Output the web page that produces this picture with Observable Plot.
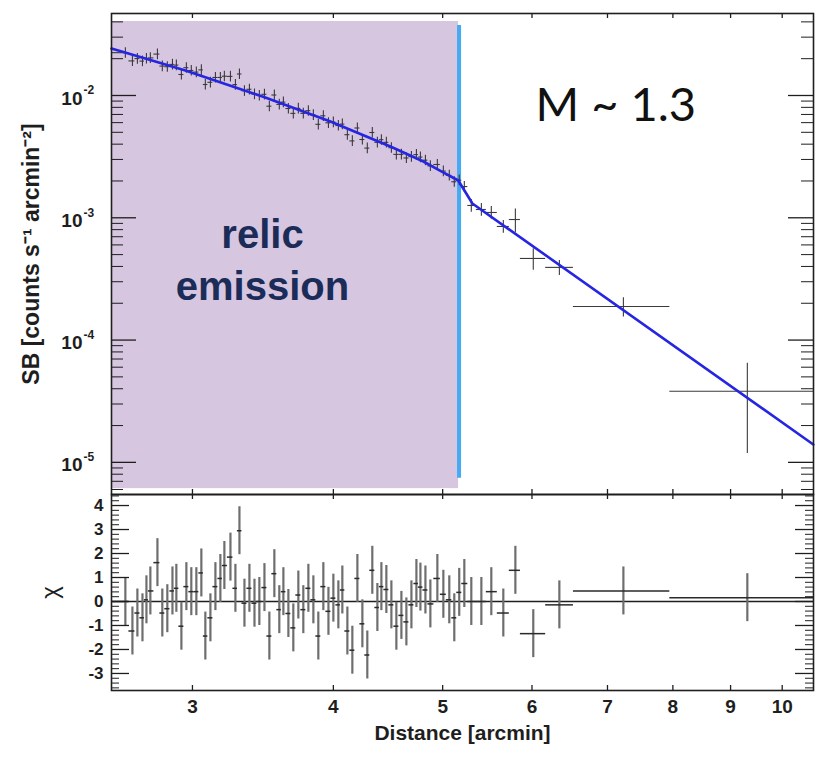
<!DOCTYPE html>
<html><head><meta charset="utf-8">
<script src="https://cdn.jsdelivr.net/npm/d3@7"></script>
<script src="https://cdn.jsdelivr.net/npm/@observablehq/plot@0.6"></script>
<style>
body{margin:0;background:#fff;}
#chart{width:820px;height:758px;position:relative;}
#chart svg{display:block;}
</style></head><body><div id="chart"></div>
<script>
// ---- data ----
const distance = [2.616, 2.654, 2.681, 2.709, 2.731, 2.753, 2.793, 2.821, 2.850, 2.880,
  2.903, 2.933, 2.963, 2.993, 3.024, 3.055, 3.080, 3.112, 3.144, 3.176,
  3.202, 3.242, 3.275, 3.302, 3.336, 3.370, 3.405, 3.439, 3.475, 3.510,
  3.546, 3.582, 3.612, 3.649, 3.686, 3.724, 3.762, 3.801, 3.840, 3.879,
  3.919, 3.960, 4.000, 4.041, 4.074, 4.116, 4.158, 4.201, 4.244, 4.287,
  4.331, 4.376, 4.412, 4.457, 4.503, 4.549, 4.596, 4.643, 4.691, 4.739,
  4.778, 4.827, 4.876, 4.946, 5.007, 5.068, 5.120, 5.172, 5.226, 5.301,
  5.411, 5.522, 5.659, 5.800, 6.016, 6.345, 7.231, 9.313];
const sb = [0.02239, 0.01918, 0.02003, 0.01911, 0.02007, 0.02030, 0.02181, 0.01740, 0.01720, 0.01796,
  0.01773, 0.01485, 0.01688, 0.01601, 0.01554, 0.01620, 0.01230, 0.01282, 0.01404, 0.01404,
  0.01438, 0.01433, 0.01228, 0.01499, 0.01093, 0.01124, 0.01027, 0.01000, 0.01023, 0.008176,
  0.01009, 0.008457, 0.008831, 0.007828, 0.007140, 0.007843, 0.007153, 0.007511, 0.006942, 0.005813,
  0.006823, 0.005980, 0.006059, 0.005683, 0.005835, 0.004780, 0.004253, 0.005423, 0.004366, 0.003714,
  0.004982, 0.004142, 0.004350, 0.004142, 0.003742, 0.003299, 0.003299, 0.003083, 0.003160, 0.003286,
  0.003136, 0.002958, 0.002657, 0.002728, 0.002409, 0.002222, 0.001970, 0.002030, 0.001800, 0.001261,
  0.001169, 0.001105, 0.000849, 0.000968, 0.000465, 0.000393, 0.000188, 0.0000382];
const sbRelErr = [0.10, 0.10, 0.10, 0.10, 0.10, 0.10, 0.10, 0.10, 0.10, 0.10,
  0.10, 0.10, 0.10, 0.10, 0.10, 0.10, 0.10, 0.10, 0.10, 0.10,
  0.10, 0.10, 0.10, 0.10, 0.10, 0.10, 0.10, 0.10, 0.10, 0.10,
  0.10, 0.10, 0.10, 0.10, 0.10, 0.10, 0.10, 0.10, 0.10, 0.10,
  0.10, 0.10, 0.10, 0.10, 0.10, 0.10, 0.10, 0.10, 0.10, 0.10,
  0.10, 0.10, 0.10, 0.10, 0.10, 0.10, 0.10, 0.10, 0.10, 0.10,
  0.10, 0.10, 0.10, 0.10, 0.10, 0.10, 0.10, 0.10, 0.10, 0.12,
  0.12, 0.12, 0.12, 0.22, 0.20, 0.14, 0.18, 0.69];
const chi = [0.00, -1.23, -0.48, -0.68, 0.07, 0.44, 1.62, -0.48, -0.30, 0.44,
  0.55, -1.03, 0.62, 0.41, 0.41, 1.19, -1.44, -0.68, 0.62, 0.96,
  1.50, 1.85, 0.55, 2.95, -0.07, 0.55, -0.07, 0.00, 0.58, -1.44,
  1.16, -0.34, 0.41, -0.50, -1.10, 0.27, -0.34, 0.55, 0.07, -1.44,
  0.62, -0.41, 0.14, -0.14, 0.48, -1.23, -2.03, 0.96, -0.93, -2.23,
  1.30, -0.25, 0.62, 0.50, -0.14, -1.03, -0.58, -0.85, -0.14, 0.75,
  0.60, 0.48, -0.10, 0.96, 0.30, 0.07, -0.68, 0.38, 0.75, 0.00,
  0.00, 0.41, -0.48, 1.30, -1.34, -0.14, 0.44, 0.16];
// wide outer bins (edges) of the last four points
const outerBinEdges = [5.86, 6.17, 6.53, 7.95, 10.66];
// best-fit broken power-law model (blue line)
const modelDistance = [2.543, 2.753, 2.957, 3.208, 3.481, 3.741, 3.976, 4.227, 4.494, 4.807, 4.977, 5.162, 5.313, 10.656];
const modelSB = [0.02423, 0.01948, 0.01601, 0.01242, 0.009630, 0.007540, 0.006131, 0.004845, 0.003828, 0.002886, 0.002414, 0.002018, 0.001309, 0.00001401];
// relic region and shock position
const relicX = [2.543, 5.165];
const relicY = [6.1e-6, 0.0403];
const shockX = [5.17];
const shockY = [7.4e-6, 0.0373];
// axes
const xDomain = [2.543, 10.66];
const sbDomain = [5.46e-6, 0.04683];
const chiDomain = [-3.71, 4.46];
const xTicks = [3, 4, 5, 6, 7, 8, 9, 10];
const sbMajorTicks = [1e-5, 1e-4, 1e-3, 1e-2];
const chiTicks = [-3, -2, -1, 0, 1, 2, 3, 4];
const labels = {
  x: "Distance [arcmin]",
  sb: "SB [counts s⁻¹ arcmin⁻²]",
  chi: "χ",
  relic: "relic\nemission",
  mach: "M ~ 1.3"
};

// ---- build ----
const W = 820, mL = 111, mR = 7;
const plotW = W - mL - mR;
const nDense = distance.length - (outerBinEdges.length - 1);
const points = distance.map((x, i) => {
  let lo, hi;
  if (i >= nDense) { lo = outerBinEdges[i - nDense]; hi = outerBinEdges[i - nDense + 1]; }
  else {
    lo = i === 0 ? xDomain[0] : Math.sqrt(distance[i - 1] * x);
    hi = i === nDense - 1 ? outerBinEdges[0] : Math.sqrt(x * distance[i + 1]);
  }
  return {x, sb: sb[i], err: sbRelErr[i], chi: chi[i], lo, hi};
});
const model = modelDistance.map((x, i) => ({x, y: modelSB[i]}));
const relicBand = [{x1: relicX[0], x2: relicX[1], y1: relicY[0], y2: relicY[1]}];

const sbMinor = d3.scaleLog().domain(sbDomain).ticks().filter(v => !sbMajorTicks.some(m => Math.abs(m - v) / m < 1e-6));
const chiMinor = d3.ticks(chiDomain[0], chiDomain[1], 40).filter(v => Math.abs(v - Math.round(v)) > 1e-6);

const font = "'Liberation Sans', Arial, Helvetica, sans-serif";
const ink = "#1e1e1e";

function frameTicks(plotH, major, minor, majorLen, minorLen) {
  return [
    Plot.tickY(major, {y: d => d, insetRight: plotW - majorLen, stroke: ink, strokeWidth: 1.3}),
    Plot.tickY(minor, {y: d => d, insetRight: plotW - minorLen, stroke: ink, strokeWidth: 1}),
    Plot.tickY(major, {y: d => d, insetLeft: plotW - majorLen, stroke: ink, strokeWidth: 1.3}),
    Plot.tickY(minor, {y: d => d, insetLeft: plotW - minorLen, stroke: ink, strokeWidth: 1}),
    Plot.tickX(xTicks, {x: d => d, insetBottom: plotH - 5, stroke: ink, strokeWidth: 1.3}),
    Plot.tickX(xTicks, {x: d => d, insetTop: plotH - 5, stroke: ink, strokeWidth: 1.3}),
    Plot.frame({stroke: ink, strokeWidth: 1.6})
  ];
}

const topH = 494, topMT = 13;
const topPlot = Plot.plot({
  width: W, height: topH,
  marginTop: topMT, marginBottom: 0, marginLeft: mL, marginRight: mR,
  style: {fontFamily: font, background: "transparent", overflow: "visible"},
  x: {type: "log", domain: xDomain, axis: null},
  y: {type: "log", domain: sbDomain, axis: null},
  marks: [
    Plot.rect(relicBand, {x1: "x1", x2: "x2", y1: "y1", y2: "y2", fill: "#d6c6e0"}),
    Plot.ruleX(shockX, {x: d => d, y1: shockY[0], y2: shockY[1], stroke: "#45a9f4", strokeWidth: 4}),
    Plot.ruleX(points, {x: "x", y1: d => d.sb * (1 - d.err), y2: d => d.sb * (1 + d.err), stroke: "#3a3a3a", strokeWidth: 1.1}),
    Plot.ruleY(points, {y: "sb", x1: "lo", x2: "hi", stroke: "#3a3a3a", strokeWidth: 1.1}),
    Plot.line(model, {x: "x", y: "y", stroke: "#2626e2", strokeWidth: 2.6}),
    ...frameTicks(topH - topMT, sbMajorTicks, sbMinor, 25, 12),
    Plot.text(sbMajorTicks, {y: d => d, text: () => "10", frameAnchor: "left", dx: -29, dy: 3, textAnchor: "end", fontSize: 19, fontWeight: "bold", fill: ink}),
    Plot.text(sbMajorTicks, {y: d => d, text: d => String(Math.round(Math.log10(d))), frameAnchor: "left", dx: -28, dy: -5, textAnchor: "start", fontSize: 12, fontWeight: "bold", fill: ink}),
    Plot.text([labels.sb], {text: d => d, frameAnchor: "left", dx: -80, rotate: -90, textAnchor: "middle", fontSize: 23, fontWeight: "bold", fill: ink}),
    Plot.text([labels.relic], {text: d => d, frameAnchor: "top-left", dx: 151, dy: 286, textAnchor: "middle", lineAnchor: "bottom", lineHeight: 1.3, fontSize: 40, fontWeight: "bold", fill: "#1b2c58"}),
    Plot.text([labels.mach], {text: d => d, frameAnchor: "top-left", dx: 424, dy: 107, textAnchor: "start", lineAnchor: "bottom", fontSize: 47, fontFamily: "Lato, 'Open Sans', sans-serif", fill: "#111"})
  ]
});

const botH = 264, botMB = 68;
const botPlot = Plot.plot({
  width: W, height: botH,
  marginTop: 0, marginBottom: botMB, marginLeft: mL, marginRight: mR,
  style: {fontFamily: font, background: "transparent", overflow: "visible"},
  x: {type: "log", domain: xDomain, axis: null},
  y: {domain: chiDomain, axis: null},
  marks: [
    Plot.ruleY([0], {y: d => d, stroke: ink, strokeWidth: 1.3}),
    Plot.ruleX(points, {x: "x", y1: d => d.chi - 1, y2: d => d.chi + 1, stroke: "#6e6e6e", strokeWidth: 2.2}),
    Plot.ruleY(points, {y: "chi", x1: "lo", x2: "hi", stroke: "#2a2a2a", strokeWidth: 1.5}),
    ...frameTicks(botH - botMB, chiTicks, chiMinor, 18, 8),
    Plot.text(chiTicks, {y: d => d, text: d => String(d), frameAnchor: "left", dx: -8, textAnchor: "end", fontSize: 17, fontWeight: "bold", fill: ink}),
    Plot.text([labels.chi], {text: d => d, frameAnchor: "left", dx: -61, rotate: -90, textAnchor: "middle", fontSize: 24, fill: ink}),
    Plot.text(xTicks, {x: d => d, text: d => String(d), frameAnchor: "bottom", dy: 22, fontSize: 19, fontWeight: "bold", fill: ink}),
    Plot.text([labels.x], {text: d => d, frameAnchor: "bottom", dy: 49, fontSize: 21, fontWeight: "bold", fill: ink})
  ]
});

const chart = document.getElementById("chart");
chart.appendChild(topPlot);
chart.appendChild(botPlot);
</script>
</body></html>
